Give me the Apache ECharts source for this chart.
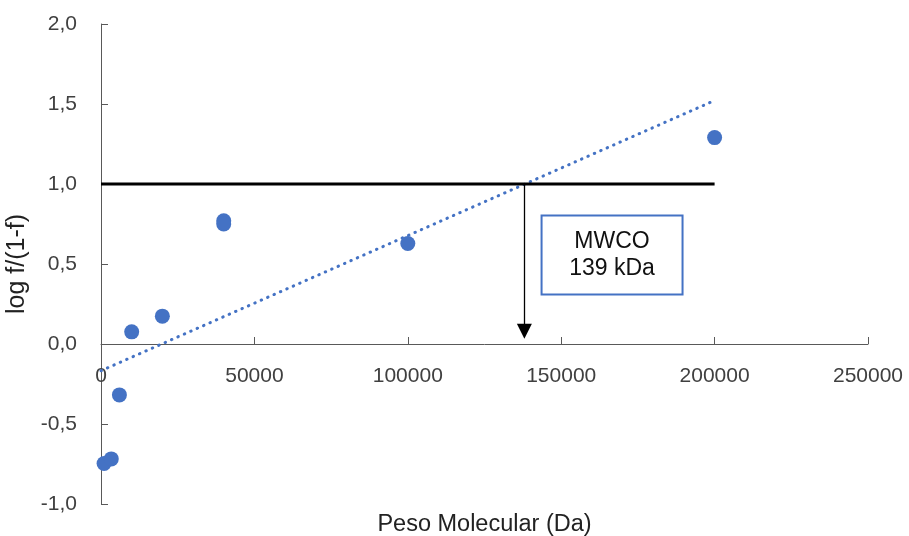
<!DOCTYPE html>
<html>
<head>
<meta charset="utf-8">
<script src="https://cdn.jsdelivr.net/npm/echarts@6/dist/echarts.min.js"></script>
<style>
html,body{margin:0;padding:0;background:#fff;}
#chart{width:909px;height:536px;}
</style>
</head>
<body>
<div id="chart"></div>
<script>
// Data
var molWeights = [1000, 3350, 6000, 10000, 20000, 40000, 40000, 100000, 200000];
var logValues  = [-0.747, -0.718, -0.318, 0.076, 0.174, 0.77, 0.75, 0.628, 1.29];
var trendX = [0, 200000];
var trendY = [-0.167, 1.522];
var refLineX = [0, 200000];
var refLineY = [1.0, 1.0];
var mwcoX = 138000;           // cut-off read from the arrow
var arrowY = [1.0, 0.08];
var boxX = [143600, 189550];
var boxY = [0.803, 0.309];
var boxText = 'MWCO\n139 kDa';
var xTicks = {min: 0, max: 250000, interval: 50000};
var yTicks = {min: -1, max: 2, interval: 0.5};

var FONT = "'Liberation Sans', Arial, sans-serif";
var blue = '#4472C4';
var GRID = {left: 101, right: 41, top: 24, bottom: 32};
var H = 536;

function pairs(xs, ys){ return xs.map(function(x,i){ return [x, ys[i]]; }); }

// x axis crosses the y axis at 0: shift it up from the grid bottom by the scale distance
var plotH = H - GRID.top - GRID.bottom;
var zeroFrac = (0 - yTicks.min) / (yTicks.max - yTicks.min);
var xAxisOffset = -plotH * zeroFrac;

var chart = echarts.init(document.getElementById('chart'), null, {renderer:'canvas'});
chart.setOption({
  animation: false,
  backgroundColor: '#fff',
  grid: {left: GRID.left, right: GRID.right, top: GRID.top, bottom: GRID.bottom, containLabel: false, outerBoundsMode: 'none'},
  xAxis: {
    type: 'value',
    position: 'bottom',
    offset: xAxisOffset,
    min: xTicks.min, max: xTicks.max, interval: xTicks.interval,
    name: 'Peso Molecular (Da)',
    nameLocation: 'middle',
    nameGap: 169,
    nameTextStyle: {fontFamily: FONT, fontSize: 23.5, color: '#222'},
    axisLine: {onZero: false, lineStyle: {color: '#595959', width: 1}},
    axisTick: {show: true, inside: true, length: 7, lineStyle: {color: '#595959'}},
    axisLabel: {fontFamily: FONT, fontSize: 21, color: '#404040', margin: 22,
      formatter: function(v){ return String(v); }},
    splitLine: {show: false}
  },
  yAxis: {
    type: 'value',
    min: yTicks.min, max: yTicks.max, interval: yTicks.interval,
    name: 'log f/(1-f)',
    nameLocation: 'middle',
    nameGap: 68,
    nameTextStyle: {fontFamily: FONT, fontSize: 25, color: '#222'},
    axisLine: {show: true, onZero: false, lineStyle: {color: '#595959', width: 1}},
    axisTick: {show: true, inside: true, length: 7, lineStyle: {color: '#595959'}},
    axisLabel: {fontFamily: FONT, fontSize: 21, color: '#404040', margin: 24,
      formatter: function(v){ return v.toFixed(1).replace('.', ','); }},
    splitLine: {show: false}
  },
  series: [
    {
      type: 'line',
      data: pairs(trendX, trendY),
      showSymbol: false,
      symbol: 'none',
      lineStyle: {color: blue, width: 3, type: [0.5, 6.5], cap: 'round'},
      z: 2
    },
    {
      type: 'line',
      data: pairs(refLineX, refLineY),
      symbol: 'none',
      lineStyle: {color: '#000', width: 3},
      z: 3,
      markLine: {
        silent: true,
        symbol: ['none', 'triangle'],
        symbolSize: 15,
        lineStyle: {color: '#000', width: 1.3, type: 'solid'},
        label: {show: false},
        data: [[{coord: [mwcoX, arrowY[0]]}, {coord: [mwcoX, arrowY[1]]}]]
      },
      markArea: {
        silent: true,
        itemStyle: {color: 'rgba(255,255,255,0)', borderColor: blue, borderWidth: 2},
        label: {show: true, position: 'inside', formatter: boxText,
          fontFamily: FONT, fontSize: 23, lineHeight: 27.5, color: '#111', align: 'center'},
        data: [[{coord: [boxX[0], boxY[0]]}, {coord: [boxX[1], boxY[1]]}]]
      }
    },
    {
      type: 'scatter',
      data: pairs(molWeights, logValues),
      symbol: 'circle',
      symbolSize: 15,
      itemStyle: {color: blue, opacity: 1},
      z: 4
    }
  ]
});
</script>
</body>
</html>
